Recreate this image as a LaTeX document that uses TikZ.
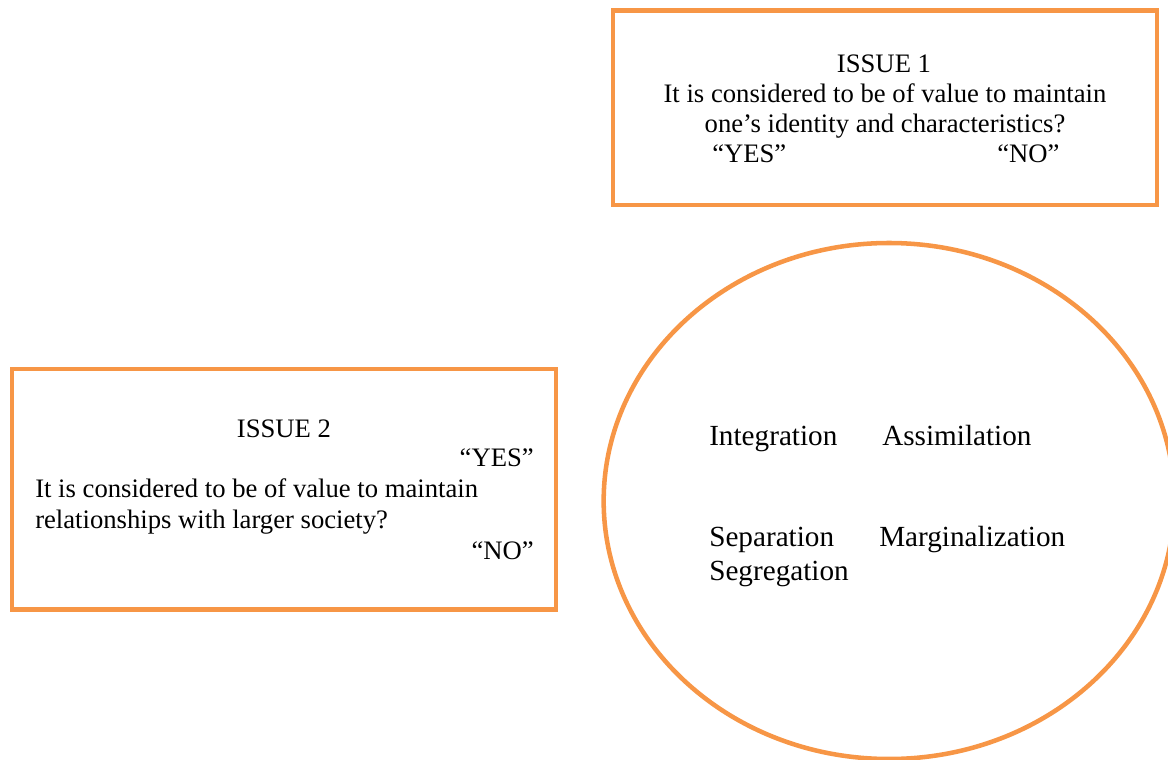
\documentclass[tikz,border=0pt]{standalone}
\usepackage{fontspec}
\setmainfont{Liberation Serif}
\usetikzlibrary{shapes.geometric}
\definecolor{frameorange}{HTML}{F79646}
\begin{document}
\begin{tikzpicture}[x=0.75pt,y=-0.75pt,
  frame/.style={draw=frameorange,line width=3.4pt,inner sep=0pt},
  txt/.style={inner sep=0pt,font=\fontsize{20}{22}\selectfont},
  strat/.style={inner sep=0pt,anchor=base west,font=\fontsize{21.9}{24}\selectfont}]
\useasboundingbox (0,0) rectangle (1168,760);
\clip (0,0) rectangle (1168,760);
% question boxes and the strategies ellipse
\node[frame,rectangle,minimum width=408pt,minimum height=146pt] (issueone) at (885,107.75) {};
\node[frame,rectangle,minimum width=408pt,minimum height=180.4pt] (issuetwo) at (284,489.25) {};
\node[frame,ellipse,minimum width=428pt,minimum height=387pt] (strategies) at (889,501) {};
% issue 1
\node[txt,anchor=base] (t1a) at (884,72) {ISSUE 1};
\node[txt,anchor=base] (t1b) at (885,102) {It is considered to be of value to maintain};
\node[txt,anchor=base] (t1c) at (885,132) {one’s identity and characteristics?};
\node[txt,anchor=base west] (t1y) at (712,162) {“YES”};
\node[txt,anchor=base west] (t1n) at (997,162) {“NO”};
% issue 2
\node[txt,anchor=base] (t2a) at (284,437) {ISSUE 2};
\node[txt,anchor=base east] (t2y) at (534,466) {“YES”};
\node[txt,anchor=base west] (t2b) at (35,497) {It is considered to be of value to maintain};
\node[txt,anchor=base west] (t2c) at (35,528) {relationships with larger society?};
\node[txt,anchor=base east] (t2n) at (534,559) {“NO”};
% acculturation strategies
\node[strat] (integ) at (709,445) {Integration};
\node[strat] (assim) at (882,445) {Assimilation};
\node[strat] (separ) at (709,546) {Separation};
\node[strat] (margi) at (879,546) {Marginalization};
\node[strat] (segre) at (709,580) {Segregation};
\end{tikzpicture}
\end{document}
